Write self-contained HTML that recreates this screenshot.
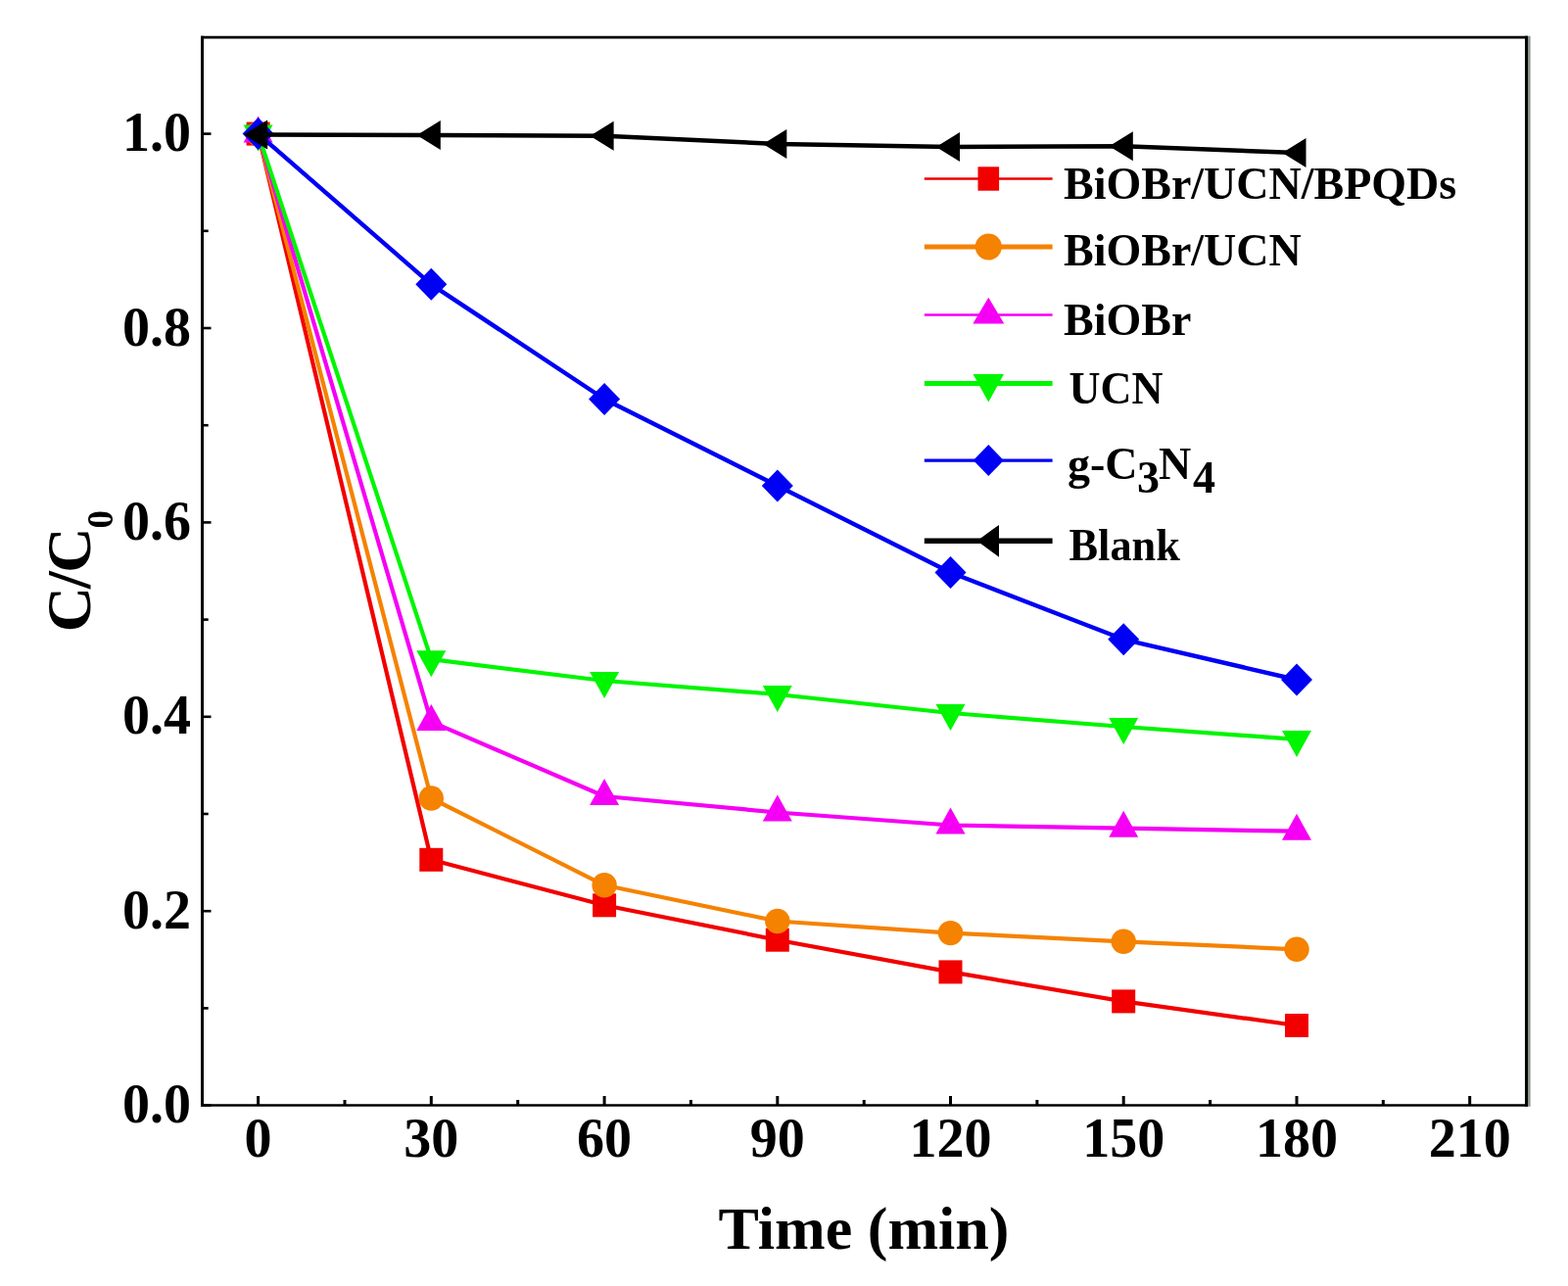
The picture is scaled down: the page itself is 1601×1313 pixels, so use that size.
<!DOCTYPE html>
<html><head><meta charset="utf-8"><title>C/C0 vs Time</title>
<style>
html,body{margin:0;padding:0;background:#fff;overflow:hidden;}
svg{display:block;}
text{font-family:"Liberation Serif","Times New Roman",serif;font-weight:bold;fill:#000;}
</style></head><body>
<svg width="1601" height="1313" viewBox="0 0 1601 1313">
<rect x="0" y="0" width="1601" height="1313" fill="#fff"/>

<polyline points="263.6,136.6 440.3,877.8 617.1,924.3 793.8,959.7 970.5,992.4 1147.2,1022.4 1324.0,1047.0" fill="none" stroke="#F20000" stroke-width="4.2" stroke-linejoin="round"/>
<rect x="251.6" y="124.6" width="24.0" height="24.0" fill="#F20000"/>
<rect x="428.3" y="865.8" width="24.0" height="24.0" fill="#F20000"/>
<rect x="605.1" y="912.3" width="24.0" height="24.0" fill="#F20000"/>
<rect x="781.8" y="947.7" width="24.0" height="24.0" fill="#F20000"/>
<rect x="958.5" y="980.4" width="24.0" height="24.0" fill="#F20000"/>
<rect x="1135.2" y="1010.4" width="24.0" height="24.0" fill="#F20000"/>
<rect x="1312.0" y="1035.0" width="24.0" height="24.0" fill="#F20000"/>
<polyline points="263.6,136.6 440.3,815.0 617.1,903.8 793.8,940.5 970.5,952.6 1147.2,961.3 1324.0,969.3" fill="none" stroke="#F58200" stroke-width="4.2" stroke-linejoin="round"/>
<circle cx="263.6" cy="136.6" r="12.7" fill="#F58200"/>
<circle cx="440.3" cy="815.0" r="12.7" fill="#F58200"/>
<circle cx="617.1" cy="903.8" r="12.7" fill="#F58200"/>
<circle cx="793.8" cy="940.5" r="12.7" fill="#F58200"/>
<circle cx="970.5" cy="952.6" r="12.7" fill="#F58200"/>
<circle cx="1147.2" cy="961.3" r="12.7" fill="#F58200"/>
<circle cx="1324.0" cy="969.3" r="12.7" fill="#F58200"/>
<polyline points="263.6,136.6 440.3,736.9 617.1,813.0 793.8,829.5 970.5,842.5 1147.2,845.7 1324.0,848.7" fill="none" stroke="#F500F5" stroke-width="4.2" stroke-linejoin="round"/>
<polygon points="263.6,118.6 248.6,145.6 278.6,145.6" fill="#F500F5"/>
<polygon points="440.3,718.9 425.3,745.9 455.3,745.9" fill="#F500F5"/>
<polygon points="617.1,795.0 602.1,822.0 632.1,822.0" fill="#F500F5"/>
<polygon points="793.8,811.5 778.8,838.5 808.8,838.5" fill="#F500F5"/>
<polygon points="970.5,824.5 955.5,851.5 985.5,851.5" fill="#F500F5"/>
<polygon points="1147.2,827.7 1132.2,854.7 1162.2,854.7" fill="#F500F5"/>
<polygon points="1324.0,830.7 1309.0,857.7 1339.0,857.7" fill="#F500F5"/>
<polyline points="263.6,136.6 440.3,673.2 617.1,695.0 793.8,709.0 970.5,728.0 1147.2,742.0 1324.0,754.9" fill="none" stroke="#00F500" stroke-width="4.2" stroke-linejoin="round"/>
<polygon points="263.6,154.6 248.6,127.6 278.6,127.6" fill="#00F500"/>
<polygon points="440.3,691.2 425.3,664.2 455.3,664.2" fill="#00F500"/>
<polygon points="617.1,713.0 602.1,686.0 632.1,686.0" fill="#00F500"/>
<polygon points="793.8,727.0 778.8,700.0 808.8,700.0" fill="#00F500"/>
<polygon points="970.5,746.0 955.5,719.0 985.5,719.0" fill="#00F500"/>
<polygon points="1147.2,760.0 1132.2,733.0 1162.2,733.0" fill="#00F500"/>
<polygon points="1324.0,772.9 1309.0,745.9 1339.0,745.9" fill="#00F500"/>
<polyline points="263.6,136.6 440.3,290.3 617.1,407.5 793.8,496.0 970.5,584.5 1147.2,652.8 1324.0,694.0" fill="none" stroke="#0000F5" stroke-width="4.4" stroke-linejoin="round"/>
<polygon points="263.6,120.1 279.6,136.6 263.6,153.1 247.6,136.6" fill="#0000F5"/>
<polygon points="440.3,273.8 456.3,290.3 440.3,306.8 424.3,290.3" fill="#0000F5"/>
<polygon points="617.1,391.0 633.1,407.5 617.1,424.0 601.1,407.5" fill="#0000F5"/>
<polygon points="793.8,479.5 809.8,496.0 793.8,512.5 777.8,496.0" fill="#0000F5"/>
<polygon points="970.5,568.0 986.5,584.5 970.5,601.0 954.5,584.5" fill="#0000F5"/>
<polygon points="1147.2,636.3 1163.2,652.8 1147.2,669.3 1131.2,652.8" fill="#0000F5"/>
<polygon points="1324.0,677.5 1340.0,694.0 1324.0,710.5 1308.0,694.0" fill="#0000F5"/>
<polyline points="263.6,137.5 440.3,138.0 617.1,138.8 793.8,147.0 970.5,150.0 1147.2,149.3 1324.0,156.0" fill="none" stroke="#000000" stroke-width="4.5" stroke-linejoin="round"/>
<polygon points="248.9,137.5 273.1,122.5 273.1,152.5" fill="#000000"/>
<polygon points="425.6,138.0 449.8,123.0 449.8,153.0" fill="#000000"/>
<polygon points="602.4,138.8 626.6,123.8 626.6,153.8" fill="#000000"/>
<polygon points="779.1,147.0 803.3,132.0 803.3,162.0" fill="#000000"/>
<polygon points="955.8,150.0 980.0,135.0 980.0,165.0" fill="#000000"/>
<polygon points="1132.5,149.3 1156.8,134.3 1156.8,164.3" fill="#000000"/>
<polygon points="1309.3,156.0 1333.5,141.0 1333.5,171.0" fill="#000000"/>
<g stroke="#000" fill="none">
<line x1="206.5" y1="36.8" x2="206.5" y2="1129.7" stroke-width="3"/>
<line x1="205" y1="38.1" x2="1560" y2="38.1" stroke-width="2.6"/>
<line x1="205" y1="1128.5" x2="1560" y2="1128.5" stroke-width="2.6"/>
<line x1="1558.5" y1="36.8" x2="1558.5" y2="1129.7" stroke-width="3"/>
</g>
<line x1="1561.3" y1="36.8" x2="1561.3" y2="1129.7" stroke="#8a948a" stroke-width="2.6"/>
<g stroke="#000"><line x1="263.6" y1="1119" x2="263.6" y2="1128" stroke-width="3"/><line x1="440.3" y1="1119" x2="440.3" y2="1128" stroke-width="3"/><line x1="617.1" y1="1119" x2="617.1" y2="1128" stroke-width="3"/><line x1="793.8" y1="1119" x2="793.8" y2="1128" stroke-width="3"/><line x1="970.5" y1="1119" x2="970.5" y2="1128" stroke-width="3"/><line x1="1147.2" y1="1119" x2="1147.2" y2="1128" stroke-width="3"/><line x1="1324.0" y1="1119" x2="1324.0" y2="1128" stroke-width="3"/><line x1="1500.7" y1="1119" x2="1500.7" y2="1128" stroke-width="3"/><line x1="352.0" y1="1123" x2="352.0" y2="1128" stroke-width="3"/><line x1="528.7" y1="1123" x2="528.7" y2="1128" stroke-width="3"/><line x1="705.4" y1="1123" x2="705.4" y2="1128" stroke-width="3"/><line x1="882.2" y1="1123" x2="882.2" y2="1128" stroke-width="3"/><line x1="1058.9" y1="1123" x2="1058.9" y2="1128" stroke-width="3"/><line x1="1235.6" y1="1123" x2="1235.6" y2="1128" stroke-width="3"/><line x1="1412.3" y1="1123" x2="1412.3" y2="1128" stroke-width="3"/><line x1="207" y1="1128.6" x2="215.5" y2="1128.6" stroke-width="2.6"/><line x1="207" y1="930.2" x2="215.5" y2="930.2" stroke-width="2.6"/><line x1="207" y1="731.8" x2="215.5" y2="731.8" stroke-width="2.6"/><line x1="207" y1="533.4" x2="215.5" y2="533.4" stroke-width="2.6"/><line x1="207" y1="335.0" x2="215.5" y2="335.0" stroke-width="2.6"/><line x1="207" y1="136.6" x2="215.5" y2="136.6" stroke-width="2.6"/><line x1="207" y1="1029.4" x2="212.7" y2="1029.4" stroke-width="2.6"/><line x1="207" y1="831.0" x2="212.7" y2="831.0" stroke-width="2.6"/><line x1="207" y1="632.6" x2="212.7" y2="632.6" stroke-width="2.6"/><line x1="207" y1="434.2" x2="212.7" y2="434.2" stroke-width="2.6"/><line x1="207" y1="235.8" x2="212.7" y2="235.8" stroke-width="2.6"/></g>
<text x="263.6" y="1181" font-size="56" text-anchor="middle">0</text>
<text x="440.3" y="1181" font-size="56" text-anchor="middle">30</text>
<text x="617.1" y="1181" font-size="56" text-anchor="middle">60</text>
<text x="793.8" y="1181" font-size="56" text-anchor="middle">90</text>
<text x="970.5" y="1181" font-size="56" text-anchor="middle">120</text>
<text x="1147.2" y="1181" font-size="56" text-anchor="middle">150</text>
<text x="1324.0" y="1181" font-size="56" text-anchor="middle">180</text>
<text x="1500.7" y="1181" font-size="56" text-anchor="middle">210</text>
<text x="195" y="1146.2" font-size="56" text-anchor="end">0.0</text>
<text x="195" y="947.8" font-size="56" text-anchor="end">0.2</text>
<text x="195" y="749.4" font-size="56" text-anchor="end">0.4</text>
<text x="195" y="551.0" font-size="56" text-anchor="end">0.6</text>
<text x="195" y="352.6" font-size="56" text-anchor="end">0.8</text>
<text x="195" y="154.2" font-size="56" text-anchor="end">1.0</text>
<text x="882" y="1274.7" font-size="62" text-anchor="middle">Time (min)</text>
<text transform="translate(92.4,645.2) rotate(-90)" font-size="64"><tspan x="0" y="0">C</tspan><tspan x="44.2" y="0">/</tspan><tspan x="60.5" y="0">C</tspan><tspan x="105.6" y="22.1" font-size="37">0</tspan></text>
<line x1="943.8" y1="182.5" x2="1074.6" y2="182.5" stroke="#F20000" stroke-width="2.5"/>
<rect x="998.5" y="170.3" width="21.6" height="24.4" fill="#F20000"/>
<text x="1086" y="202.5" font-size="46">BiOBr/UCN/BPQDs</text>
<line x1="943.8" y1="252.0" x2="1074.6" y2="252.0" stroke="#F58200" stroke-width="5.2"/>
<circle cx="1009.3" cy="252.0" r="13.6" fill="#F58200"/>
<text x="1086" y="271" font-size="46">BiOBr/UCN</text>
<line x1="943.8" y1="321.6" x2="1074.6" y2="321.6" stroke="#F500F5" stroke-width="2.5"/>
<polygon points="1009.3,303.8 993.3,330.5 1025.3,330.5" fill="#F500F5"/>
<text x="1086" y="341.6" font-size="46">BiOBr</text>
<line x1="943.8" y1="391.5" x2="1074.6" y2="391.5" stroke="#00F500" stroke-width="5.1"/>
<polygon points="1009.3,410.4 993.5,382.1 1025.0,382.1" fill="#00F500"/>
<text x="1091.5" y="411.6" font-size="46" textLength="96" lengthAdjust="spacingAndGlyphs">UCN</text>
<line x1="943.8" y1="470.1" x2="1074.6" y2="470.1" stroke="#0000F5" stroke-width="3.2"/>
<polygon points="1009.3,454.1 1024.8,470.1 1009.3,486.1 993.8,470.1" fill="#0000F5"/>
<text font-size="46"><tspan x="1090" y="488.8">g-C</tspan><tspan x="1161" y="502.6">3</tspan><tspan x="1183" y="488.8">N</tspan><tspan x="1218" y="502.6">4</tspan></text>
<line x1="943.8" y1="552.3" x2="1074.6" y2="552.3" stroke="#000" stroke-width="5.6"/>
<polygon points="997.6,552.3 1020,535.9 1020,568.7" fill="#000"/>
<text x="1091.5" y="571.8" font-size="46" textLength="113.4" lengthAdjust="spacingAndGlyphs">Blank</text>
</svg>
</body></html>
